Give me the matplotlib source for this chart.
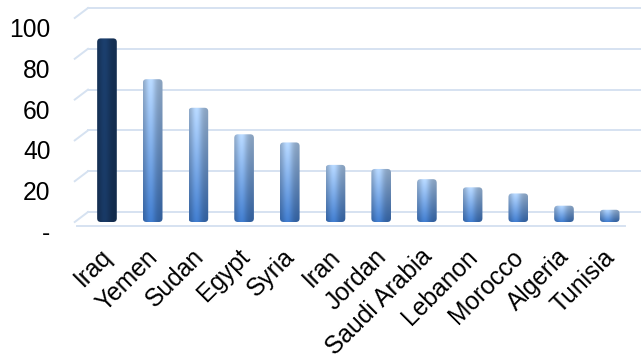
import numpy as np
import matplotlib.pyplot as plt
from matplotlib import transforms
from matplotlib.patches import FancyBboxPatch

countries = ["Iraq", "Yemen", "Sudan", "Egypt", "Syria", "Iran", "Jordan",
             "Saudi Arabia", "Lebanon", "Morocco", "Algeria", "Tunisia"]
values = [90, 70, 56, 43, 39, 28, 26, 21, 17, 14, 8, 6]
yticks = [0, 20, 40, 60, 80, 100]
ytick_labels = ["-", "20", "40", "60", "80", "100"]

plt.rcParams['font.family'] = ['Liberation Sans', 'DejaVu Sans']

W, H = 641, 354
px = 1 / 100
scale = 2.04    # pixels per y unit
xunit = 45.7    # pixels per category

fig = plt.figure(figsize=(W / 100, H / 100), dpi=100)
ax = fig.add_axes([77 / W, 1 - 228 / H, 564 / W, 228 / H])

x = np.arange(len(countries))
bars = ax.bar(x, values, width=0.43, color='none', edgecolor='none', zorder=3)


def bar_shade(top, bot, n=120, m=40):
    # cylinder-like shading: lighter at the top, darker edges
    t = np.linspace(0, 1, n)[:, None, None]
    col = bot[None, None, :] * (1 - t) + top[None, None, :] * t
    s = np.linspace(-1, 1, m)
    prof = 0.80 + 0.28 * np.exp(-((s + 0.25) / 0.55) ** 2)
    img = col * prof[None, :, None]
    return np.clip(img, 0, 1)


light = bar_shade(np.array([0.68, 0.80, 0.94]), np.array([0.24, 0.46, 0.76]))
dark = bar_shade(np.array([0.10, 0.23, 0.40]), np.array([0.09, 0.21, 0.37]))

for i, b in enumerate(bars):
    x0, y0, bw, bh = b.get_x(), b.get_y(), b.get_width(), b.get_height()
    # rounded outline for the column ends
    rnd = FancyBboxPatch((x0, y0), bw, bh, boxstyle="round,pad=0,rounding_size=0.08",
                         mutation_aspect=xunit / scale, facecolor='none',
                         edgecolor='none', zorder=3)
    ax.add_patch(rnd)
    img = dark if i == 0 else light
    im = ax.imshow(img, extent=(x0, x0 + bw, y0, y0 + bh),
                   origin='lower', aspect='auto', zorder=3, interpolation='bilinear')
    im.set_clip_path(rnd)

# back wall gridlines, drawn a few pixels above the front plane
grid_c = '#d6e2f1'
shift_px = 10
back = ax.get_yaxis_transform() + transforms.ScaledTranslation(0, shift_px * px, fig.dpi_scale_trans)
for v in yticks:
    ax.plot([0.0195, 1], [v, v], transform=back, color=grid_c, lw=1.4, zorder=1)
    ax.plot([-0.004, 0.0195], [v - shift_px / scale, v], transform=back,
            color=grid_c, lw=1.4, zorder=1, clip_on=False)
# floor edge
ax.plot([0, 0.972], [-2, -2], transform=ax.get_yaxis_transform(), color=grid_c,
        lw=1.4, zorder=1, clip_on=False)

ax.set_xlim(-0.656, 11.685)
ax.set_ylim(-6 / scale, 222 / scale)

ax.set_yticks(yticks, ytick_labels, fontsize=17.7)
ax.set_xticks(x, countries, rotation=45, ha='right', rotation_mode='anchor', fontsize=17.7)
ax.tick_params(axis='y', length=0, pad=19)
ax.tick_params(axis='x', length=0, pad=12)
for lbl in ax.get_yticklabels():
    lbl.set_va('top')
nudge = transforms.ScaledTranslation(-7 * px, 0, fig.dpi_scale_trans)
for lbl in ax.get_xticklabels():
    lbl.set_transform(lbl.get_transform() + nudge)
for s in ax.spines.values():
    s.set_visible(False)

fig.savefig('out.png', dpi=100)
